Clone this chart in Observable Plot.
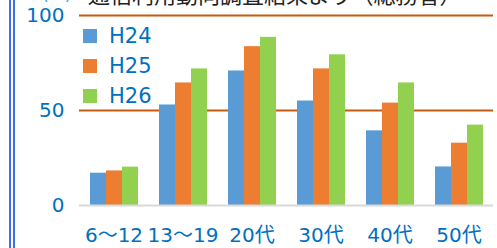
<!DOCTYPE html>
<html>
<head>
<meta charset="utf-8">
<script src="https://cdn.jsdelivr.net/npm/d3@7"></script>
<script src="https://cdn.jsdelivr.net/npm/@observablehq/plot@0.6"></script>
<style>
  html, body { margin: 0; padding: 0; background: #fff; }
  body { width: 497px; height: 248px; overflow: hidden; }
  #wrap { position: relative; width: 497px; height: 248px; overflow: hidden; font-family: 'DejaVu Sans', 'Noto Sans CJK JP', sans-serif; }
  .vline { position: absolute; top: 0; width: 2px; height: 248px; background: #3f6df2; }
  #title { position: absolute; left: 88px; top: -18px; font-family: 'Noto Sans CJK JP', sans-serif; font-size: 22px; line-height: 22px; color: #222; white-space: nowrap; }
  #unit { position: absolute; left: 42px; top: -15px; font-size: 17px; line-height: 18px; color: #2aa8e8; white-space: nowrap; }
  #legend { position: absolute; left: 83px; top: 21px; color: #0070C0; font-size: 21px; }
  .item { display: flex; align-items: center; height: 30px; }
  .sw { width: 14px; height: 14px; margin-right: 12px; }
  #chart { position: absolute; left: 0; top: 0; }
</style>
</head>
<body>
<div id="wrap">
  <div id="chart"></div>
  <div id="unit">(%)</div>
  <div id="title">通信利用動向調査結果より（総務省）</div>
  <div class="vline" style="left:9px"></div>
  <div class="vline" style="left:13px"></div>
  <div id="legend"></div>
</div>
<script>
const categories = ["6〜12", "13〜19", "20代", "30代", "40代", "50代"];
const series = ["H24", "H25", "H26"];
const h24 = [17.0, 52.9, 70.8, 55.0, 39.3, 20.3];
const h25 = [18.2, 64.5, 83.6, 71.9, 53.9, 32.8];
const h26 = [20.2, 71.9, 88.5, 79.3, 64.5, 42.3];
const colors = ["#5B9BD5", "#ED7D31", "#92D050"];
const yTicks = [0, 50, 100];
const gridTicks = [50, 100];

const values = [h24, h25, h26];
const data = [];
categories.forEach((c, i) => {
  series.forEach((s, j) => data.push({cat: c, series: s, value: values[j][i]}));
});

const chart = Plot.plot({
  width: 497,
  height: 248,
  marginLeft: 76,
  marginRight: 1,
  marginTop: 15,
  marginBottom: 43,
  style: {fontFamily: "'DejaVu Sans', 'Noto Sans CJK JP', sans-serif", fontSize: "20px", color: "#0070C0", background: "transparent", overflow: "visible"},
  fx: {domain: categories, paddingInner: 0.2857, paddingOuter: 0.1429, label: null, tickSize: 0, tickPadding: 22, axis: "bottom"},
  x: {domain: series, padding: 0, axis: null},
  y: {domain: [0, 100], ticks: yTicks, label: null, tickSize: 0, tickPadding: 25},
  color: {domain: series, range: colors},
  marks: [
    Plot.ruleY(gridTicks, {stroke: "#C55A11", strokeWidth: 2, insetLeft: -10, insetRight: -10}),
    Plot.barY(data, {fx: "cat", x: "series", y: "value", fill: "series"}),
    Plot.ruleY([0], {stroke: "#D9D9D9", strokeWidth: 2, insetLeft: -10, insetRight: -10})
  ]
});
document.getElementById("chart").appendChild(chart);

const legend = document.getElementById("legend");
series.forEach((s, i) => {
  const it = document.createElement("div");
  it.className = "item";
  it.innerHTML = `<div class="sw" style="background:${colors[i]}"></div><span>${s}</span>`;
  legend.appendChild(it);
});
</script>
</body>
</html>
